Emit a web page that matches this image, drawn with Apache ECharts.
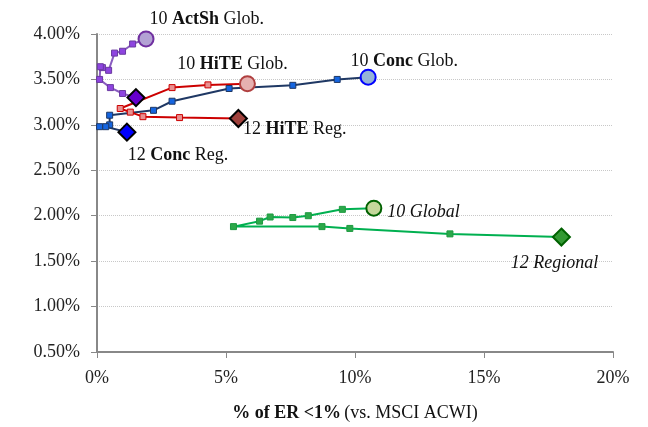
<!DOCTYPE html>
<html>
<head>
<meta charset="utf-8">
<script src="https://cdn.jsdelivr.net/npm/echarts@6/dist/echarts.min.js"></script>
<style>
  html, body { margin: 0; padding: 0; background: #fff; }
  #chart { width: 648px; height: 427px; }
</style>
</head>
<body>
<div id="chart"></div>
<script>
// x: % of ER <1% (vs. MSCI ACWI), y: value in %; first point = 10 Global, last point = 12 Regional
var concX = [10.51, 9.31, 7.59, 5.12, 2.91, 2.19, 0.49, 0.49, 0.10, 0.34, 1.16];
var concY = [3.525, 3.50, 3.435, 3.40, 3.26, 3.16, 3.106, 3.00, 2.98, 2.98, 2.92];

var hiteX = [5.83, 4.30, 2.91, 0.90, 1.29, 1.78, 3.20, 5.48];
var hiteY = [3.453, 3.44, 3.41, 3.18, 3.14, 3.09, 3.08, 3.07];

var actShX = [1.90, 1.38, 0.99, 0.68, 0.45, 0.21, 0.13, 0.10, 0.52, 0.99, 1.51];
var actShY = [3.946, 3.89, 3.81, 3.79, 3.60, 3.63, 3.64, 3.50, 3.41, 3.345, 3.30];

var globX = [10.73, 9.51, 8.19, 7.59, 6.71, 6.30, 5.29, 8.72, 9.80, 13.68, 18.00];
var globY = [2.083, 2.07, 2.00, 1.98, 1.986, 1.94, 1.88, 1.88, 1.86, 1.80, 1.765];

var yTicks = [0.5, 1.0, 1.5, 2.0, 2.5, 3.0, 3.5, 4.0];
var xTicks = [0, 5, 10, 15, 20];

var serif = 'Liberation Serif';

function buildData(xs, ys, st) {
    var out = [];
    for (var i = 0; i < xs.length; i++) {
        var item = { value: [xs[i], ys[i]] };
        if (i === 0) {
            item.symbol = 'circle';
            item.symbolSize = 15;
            item.itemStyle = { color: st.startFill, borderColor: st.startBorder, borderWidth: 2 };
            item.label = st.startLabel;
        } else if (i === xs.length - 1) {
            item.symbol = 'diamond';
            item.symbolSize = 17;
            item.itemStyle = { color: st.endFill, borderColor: st.endBorder, borderWidth: 2 };
            item.label = st.endLabel;
        }
        out.push(item);
    }
    return out;
}

var rich = {
    b: { fontFamily: serif, fontSize: 18, fontWeight: 'bold', color: '#111' },
    n: { fontFamily: serif, fontSize: 18, color: '#111' },
    i: { fontFamily: serif, fontSize: 18, fontStyle: 'italic', color: '#111' }
};

function lbl(text, pos, off) {
    return { show: true, formatter: text, position: pos, offset: off, rich: rich };
}

function makeSeries(name, xs, ys, lineColor, sqFill, sqBorder, st) {
    return {
        name: name,
        type: 'line',
        data: buildData(xs, ys, st),
        symbol: 'rect',
        symbolSize: 6,
        lineStyle: { color: lineColor, width: 2 },
        itemStyle: { color: sqFill, borderColor: sqBorder, borderWidth: 1 },
        emphasis: { disabled: true },
        animation: false
    };
}

var chart = echarts.init(document.getElementById('chart'));

var option = {
    backgroundColor: '#fff',
    grid: { left: 97, right: 35, top: 34, bottom: 67 },
    xAxis: {
        type: 'value',
        min: xTicks[0],
        max: xTicks[xTicks.length - 1],
        interval: 5,
        axisLine: { lineStyle: { color: '#888', width: 2 } },
        axisTick: { show: true, length: 6, lineStyle: { color: '#888' } },
        splitLine: { show: false },
        axisLabel: {
            fontFamily: serif, fontSize: 18, color: '#222', margin: 17,
            formatter: function (v) { return v + '%'; }
        },
        name: '{b|% of ER <1%} {n|(vs. MSCI ACWI)}',
        nameLocation: 'middle',
        nameGap: 52,
        nameTextStyle: { rich: rich }
    },
    yAxis: {
        type: 'value',
        min: yTicks[0],
        max: yTicks[yTicks.length - 1],
        interval: 0.5,
        axisLine: { show: true, lineStyle: { color: '#888', width: 2 } },
        axisTick: { show: true, length: 6, lineStyle: { color: '#888' } },
        splitLine: { show: true, lineStyle: { color: '#c8c8c8', type: 'dotted' } },
        axisLabel: {
            fontFamily: serif, fontSize: 18, color: '#222', margin: 17,
            formatter: function (v) { return v.toFixed(2) + '%'; }
        }
    },
    series: [
        makeSeries('Conc', concX, concY, '#1f3864', '#1565e0', '#1f3864', {
            startFill: '#95b3d7', startBorder: '#0000ff',
            endFill: '#0000ff', endBorder: '#000',
            startLabel: lbl('{n|10 }{b|Conc}{n| Glob.}', 'top', [36, 7]),
            endLabel: lbl('{n|12 }{b|Conc}{n| Reg.}', 'bottom', [51, 0])
        }),
        makeSeries('HiTE', hiteX, hiteY, '#cc0000', '#e89090', '#cc0000', {
            startFill: '#e6b0b0', startBorder: '#b04040',
            endFill: '#a0413c', endBorder: '#000',
            startLabel: lbl('{n|10 }{b|HiTE}{n| Glob.}', 'top', [-15, 3]),
            endLabel: lbl('{n|12 }{b|HiTE}{n| Reg.}', 'right', [-10, 11])
        }),
        makeSeries('ActSh', actShX, actShY, '#8a5cc0', '#8e44e0', '#6a3aa0', {
            startFill: '#b3a2d4', startBorder: '#7030a0',
            endFill: '#6600cc', endBorder: '#000',
            startLabel: lbl('{n|10 }{b|ActSh}{n| Glob.}', 'right', [-10, -20]),
            endLabel: { show: false }
        }),
        makeSeries('Global', globX, globY, '#00b050', '#2ca84a', '#1e9a40', {
            startFill: '#c4d79b', startBorder: '#006100',
            endFill: '#339933', endBorder: '#006100',
            startLabel: lbl('{i|10 Global}', 'right', [0, 4]),
            endLabel: lbl('{i|12 Regional}', 'bottom', [-7, 3])
        })
    ]
};

chart.setOption(option);
</script>
</body>
</html>
